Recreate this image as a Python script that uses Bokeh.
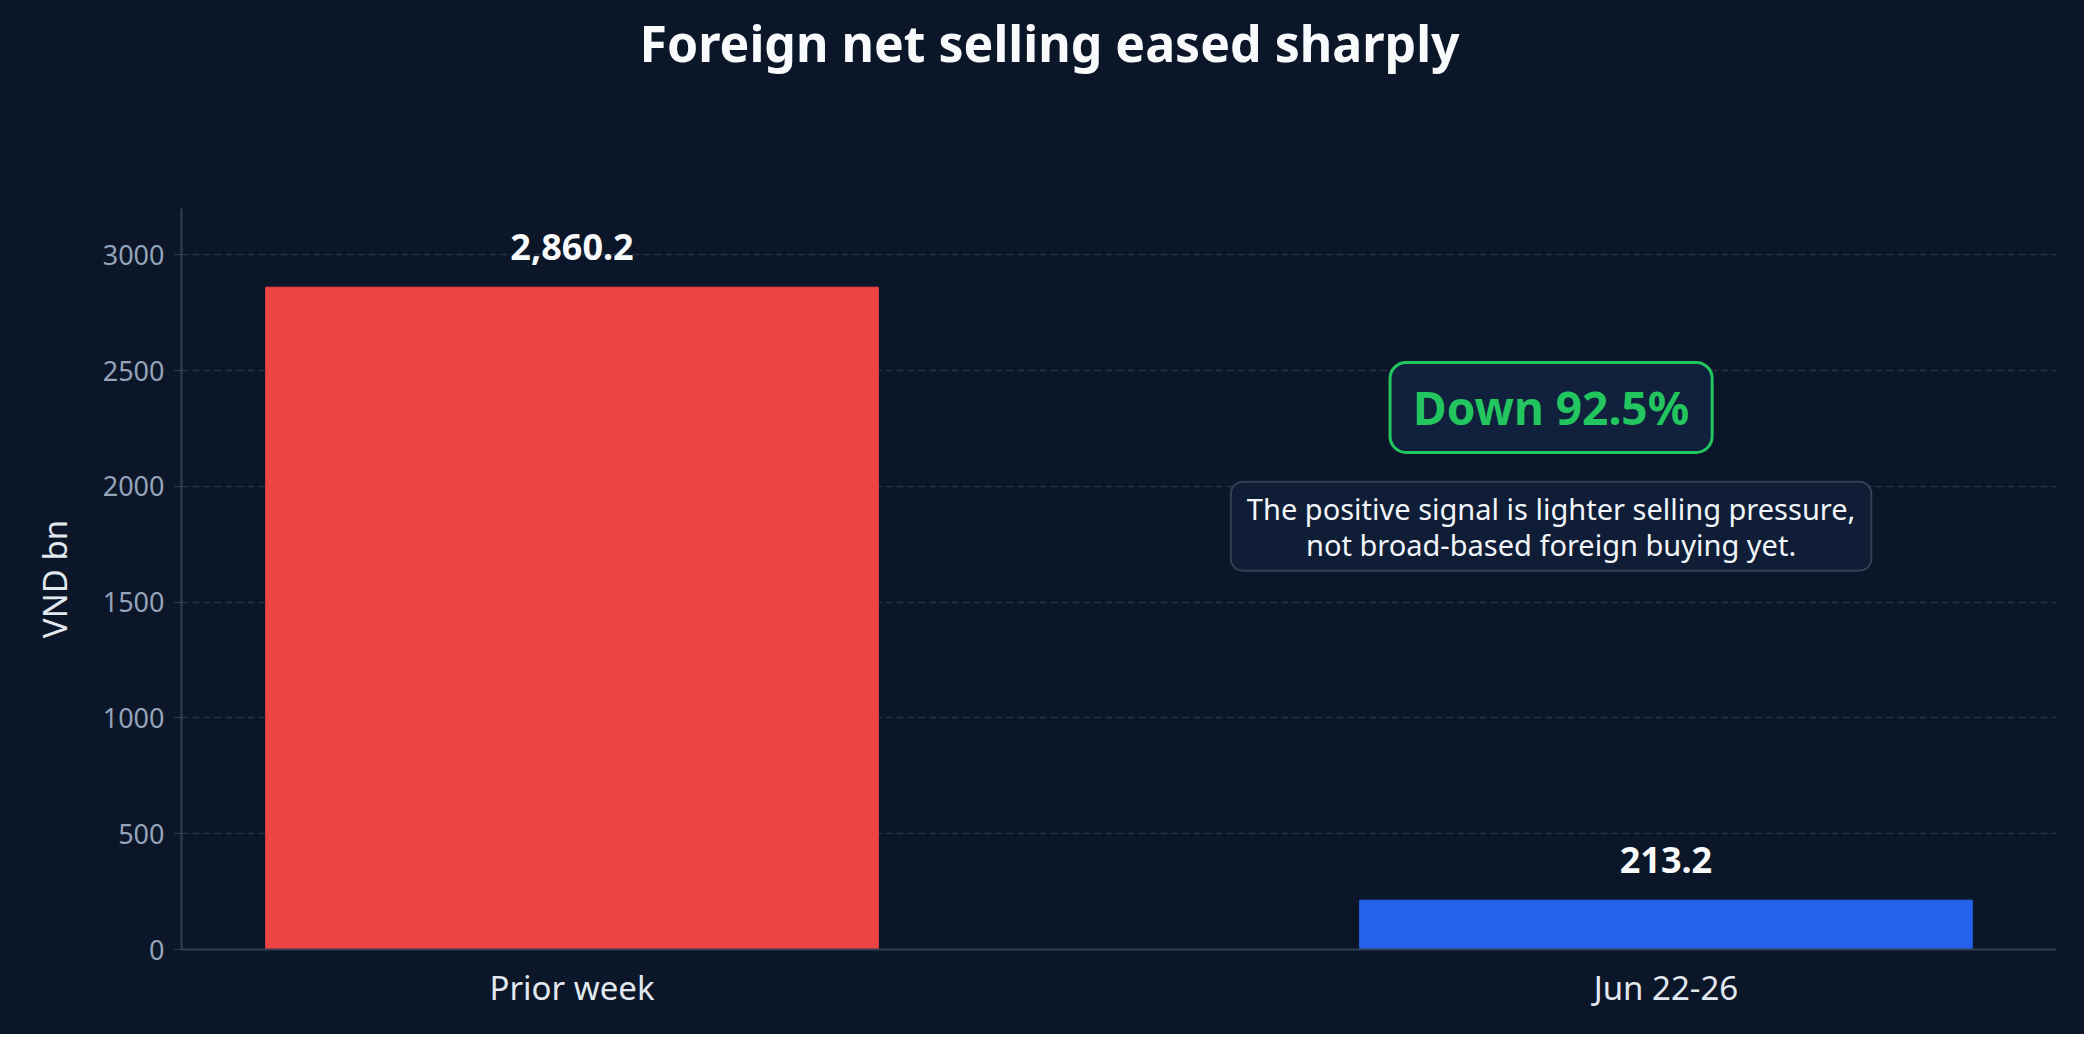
from bokeh.plotting import figure
from bokeh.models import Label, Range1d, FixedTicker, ColumnDataSource, Title
from bokeh.embed import file_html
from bokeh.resources import INLINE
from bokeh.core.properties import value

# Datos del grafico
periods = ["Prior week", "Jun 22-26"]
net_selling = [2860.2, 213.2]
bar_colors = ["#ef4444", "#2563eb"]
y_ticks = [0, 500, 1000, 1500, 2000, 2500, 3000]

BG = "#0b1628"
FONT = "Noto Sans"

change = (1 - net_selling[1] / net_selling[0]) * 100

x_pos = list(range(len(periods)))
src = ColumnDataSource(dict(
    x=x_pos,
    top=net_selling,
    color=bar_colors,
    label=[f"{v:,.1f}" for v in net_selling],
))

p = figure(width=2084, height=1034,
           x_range=Range1d(-0.357, 1.357), y_range=Range1d(0, 3200),
           output_backend="svg", toolbar_location=None,
           min_border_left=181, min_border_right=28,
           min_border_top=208, min_border_bottom=85,
           background_fill_color=BG, border_fill_color=BG)
p.outline_line_color = None
p.styles = {"background-color": BG}

# espacio entre titulo y grafico, luego el titulo
p.add_layout(Title(text=" ", text_font_size="112px", standoff=0), "above")
p.add_layout(Title(text="Foreign net selling eased sharply",
                   align="left", offset=458,
                   text_font=FONT, text_font_style="bold",
                   text_font_size="50px", text_color="#f8fafc"), "above")

p.vbar(x="x", top="top", width=0.56, color="color", source=src)
p.text(x="x", y="top", text="label", source=src, y_offset=-40,
       text_align="center", text_baseline="middle",
       text_font=value(FONT), text_font_style="bold",
       text_font_size="36px", text_color="#f8fafc")

# ejes
p.xaxis.ticker = FixedTicker(ticks=x_pos)
p.xaxis.major_label_overrides = {i: n for i, n in enumerate(periods)}
p.xaxis.major_label_text_font = FONT
p.xaxis.major_label_text_font_size = "33px"
p.xaxis.major_label_text_color = "#e2e8f0"
p.xaxis.major_tick_line_color = None
p.xaxis.minor_tick_line_color = None
p.xaxis.major_label_standoff = 9
p.xaxis.axis_line_color = "#334155"
p.xaxis.axis_line_width = 2

p.yaxis.ticker = FixedTicker(ticks=y_ticks)
p.yaxis.major_label_text_font = FONT
p.yaxis.major_label_text_font_size = "27px"
p.yaxis.major_label_text_color = "#94a3b8"
p.yaxis.major_tick_line_color = "#334155"
p.yaxis.major_tick_out = 7
p.yaxis.major_tick_in = 0
p.yaxis.minor_tick_line_color = None
p.yaxis.major_label_standoff = 10
p.yaxis.axis_line_color = "#334155"
p.yaxis.axis_line_width = 2
p.yaxis.axis_label = "VND bn"
p.yaxis.axis_label_text_font = FONT
p.yaxis.axis_label_text_font_size = "33px"
p.yaxis.axis_label_text_font_style = "normal"
p.yaxis.axis_label_text_color = "#e2e8f0"
p.yaxis.axis_label_standoff = 23

p.xgrid.grid_line_color = None
p.ygrid.grid_line_color = "#263244"
p.ygrid.grid_line_dash = "7 4"
p.ygrid.grid_line_width = 1.5

# notas (padding: izquierda, derecha, arriba, abajo)
p.add_layout(Label(x=0.895, y=2341, text=f"Down {change:.1f}%",
                   text_align="center", text_baseline="middle",
                   text_font=FONT, text_font_style="bold",
                   text_font_size="46px", text_color="#22c55e",
                   background_fill_color="#10203d",
                   border_line_color="#22c55e", border_line_width=3,
                   padding=(23, 23, 14, 14), border_radius=16))

p.add_layout(Label(x=0.895, y=1828,
                   text="The positive signal is lighter selling pressure,\nnot broad-based foreign buying yet.",
                   text_align="center", text_baseline="middle",
                   text_font=FONT, text_font_size="29px",
                   text_line_height=0.92,
                   text_color="#f1f5f9",
                   background_fill_color="#0f1d36",
                   border_line_color="#334155", border_line_width=2,
                   padding=(16, 16, 7, 7), border_radius=12))

open("out.html", "w").write(file_html(p, INLINE))
